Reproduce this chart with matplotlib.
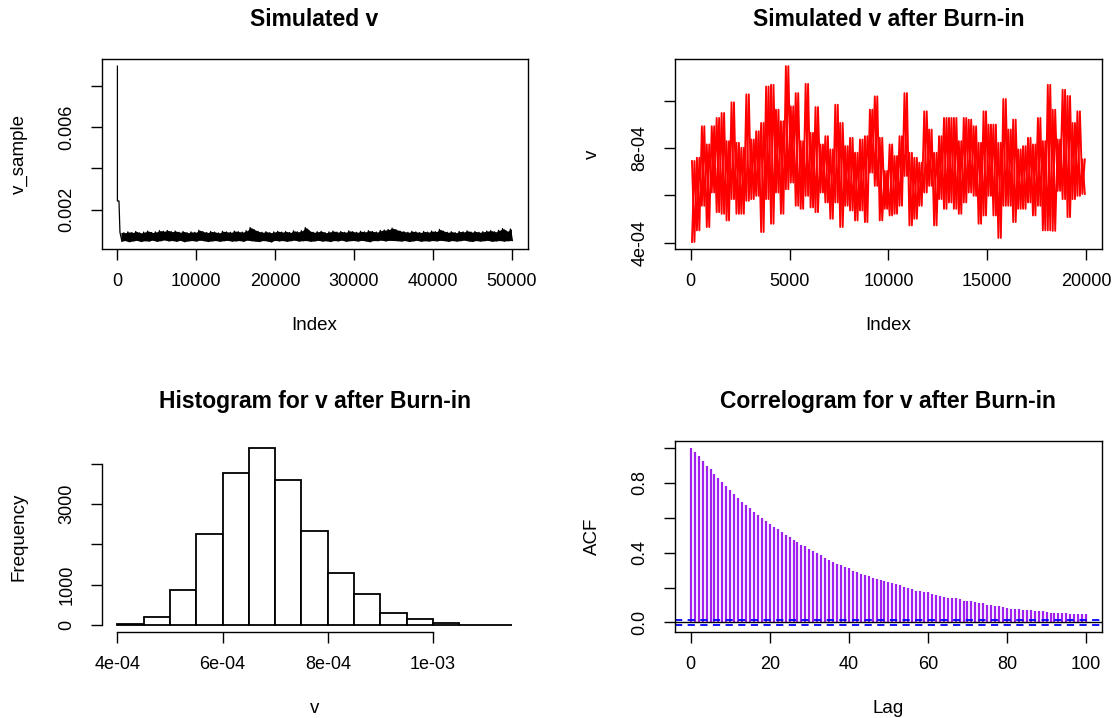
import numpy as np
import matplotlib
matplotlib.use("Agg")
import matplotlib.pyplot as plt

# ---- data ----
# full chain: start value, burn-in plateau, then per-500-draw envelope (units 1e-4)
burn_idx = [1, 2, 200]
burn_val = [89.7, 24.2, 24.2]
chain_step = 500
chain_hi = [9.0, 8.8, 9.2, 8.9, 9.4, 8.7, 9.1, 9.6, 8.9, 9.2,
            9.8, 9.5, 9.9, 9.3, 9.6, 9.0, 9.4, 8.8, 9.2, 9.0,
            10.0, 9.3, 8.9, 9.4, 9.1, 8.7, 9.5, 9.2, 9.0, 9.6,
            9.3, 9.1, 9.8, 11.3, 10.2, 9.4, 9.0, 9.3, 8.8, 9.2,
            9.5, 9.1, 9.4, 8.9, 9.7, 9.2, 9.8, 11.3, 9.6, 9.0,
            9.3, 9.5, 8.8, 9.2, 9.6, 9.1, 9.4, 9.0, 9.7, 9.3,
            9.0, 9.5, 9.2, 9.8, 9.4, 9.1, 9.9, 10.1, 10.4, 11.0,
            10.2, 9.6, 9.3, 9.0, 9.5, 9.2, 8.9, 9.4, 9.1, 9.6,
            9.3, 10.4, 9.5, 9.0, 9.3, 8.8, 9.4, 9.2, 9.7, 9.1,
            9.4, 9.0, 9.3, 9.6, 9.8, 9.2, 10.0, 10.8, 9.5, 10.6]
chain_lo = [4.6, 5.0, 4.4, 4.8, 5.1, 4.5, 4.9, 4.7, 5.2, 4.6,
            4.9, 5.3, 4.8, 5.0, 4.6, 5.1, 4.4, 4.8, 5.0, 4.7,
            5.2, 4.9, 4.5, 4.8, 5.0, 4.6, 4.9, 5.1, 4.7, 4.8,
            5.0, 4.6, 5.2, 4.9, 4.7, 4.5, 5.0, 4.8, 4.3, 5.1,
            4.8, 5.0, 4.6, 4.9, 5.2, 4.7, 4.9, 5.0, 4.6, 4.8,
            5.1, 4.7, 4.9, 4.5, 5.0, 4.8, 5.2, 4.6, 4.9, 5.0,
            4.7, 5.1, 4.8, 4.4, 5.0, 4.9, 5.2, 4.8, 5.1, 5.0,
            4.9, 4.7, 5.0, 4.5, 4.8, 5.1, 4.6, 4.9, 4.7, 5.0,
            4.8, 5.1, 4.9, 4.6, 5.0, 4.7, 4.9, 5.2, 4.8, 4.5,
            5.0, 4.7, 4.9, 5.1, 4.6, 4.8, 5.0, 4.7, 4.9, 5.0]

# after burn-in: per-250-draw envelope (units 1e-4)
post_step = 250
post_hi = [7.45, 7.59, 8.92, 8.15, 8.92, 9.27, 9.48, 8.29, 9.93, 8.22,
           8.01, 10.27, 8.36, 8.71, 9.06, 10.6, 10.67, 9.62, 9.13, 11.46,
           9.76, 10.32, 8.29, 10.71, 8.64, 9.73, 8.15, 8.50, 7.94, 9.83,
           9.06, 8.08, 8.43, 7.80, 8.36, 8.50, 9.62, 10.18, 8.43, 7.03,
           8.15, 7.66, 8.50, 10.32, 7.80, 7.59, 7.38, 9.55, 8.78, 7.80,
           8.50, 9.27, 9.27, 9.27, 8.29, 9.27, 9.20, 8.92, 8.22, 9.55,
           8.99, 8.99, 8.22, 10.07, 8.78, 9.20, 7.94, 8.08, 8.43, 8.15,
           9.27, 8.29, 10.67, 9.62, 8.36, 10.46, 10.2, 9.06, 9.55, 7.52]
post_lo = [4.03, 4.52, 5.56, 4.66, 6.12, 5.29, 5.22, 4.94, 5.84, 5.22,
           5.22, 5.77, 5.84, 5.98, 4.45, 5.84, 4.80, 6.12, 5.22, 6.26,
           6.54, 5.56, 5.43, 5.98, 5.49, 5.29, 6.12, 5.70, 5.01, 5.70,
           4.66, 5.56, 5.36, 4.94, 5.36, 4.87, 6.96, 6.40, 4.94, 5.43,
           5.15, 5.22, 5.56, 6.82, 4.73, 5.01, 5.56, 6.12, 6.40, 4.73,
           5.84, 5.43, 5.70, 5.43, 5.22, 5.70, 6.12, 5.98, 4.80, 5.15,
           5.98, 5.15, 4.20, 5.56, 5.56, 4.87, 5.43, 5.43, 5.70, 5.15,
           5.56, 4.52, 4.52, 4.50, 6.19, 5.84, 5.08, 5.84, 5.98, 6.06]

# histogram of the post burn-in draws
bin_edges = [4.0e-4, 4.5e-4, 5.0e-4, 5.5e-4, 6.0e-4, 6.5e-4, 7.0e-4, 7.5e-4,
             8.0e-4, 8.5e-4, 9.0e-4, 9.5e-4, 1.0e-3, 1.05e-3, 1.1e-3, 1.15e-3]
bin_counts = [33, 198, 876, 2264, 3777, 4397, 3595, 2331, 1298, 777,
              289, 157, 58, 3, 1]

# autocorrelation, lags 0..100
acf_vals = [1.000, 0.975, 0.952, 0.923, 0.898, 0.879, 0.854, 0.831, 0.805, 0.782,
            0.760, 0.736, 0.713, 0.692, 0.674, 0.655, 0.636, 0.617, 0.600, 0.579,
            0.564, 0.550, 0.535, 0.520, 0.502, 0.489, 0.474, 0.460, 0.447, 0.436,
            0.422, 0.409, 0.397, 0.386, 0.371, 0.359, 0.348, 0.338, 0.329, 0.317,
            0.311, 0.296, 0.288, 0.279, 0.271, 0.264, 0.256, 0.250, 0.243, 0.237,
            0.231, 0.227, 0.222, 0.214, 0.206, 0.199, 0.191, 0.183, 0.183, 0.176,
            0.172, 0.164, 0.159, 0.153, 0.147, 0.143, 0.139, 0.138, 0.132, 0.126,
            0.124, 0.122, 0.118, 0.111, 0.109, 0.101, 0.099, 0.096, 0.094, 0.088,
            0.084, 0.080, 0.078, 0.076, 0.073, 0.073, 0.071, 0.065, 0.065, 0.063,
            0.061, 0.057, 0.057, 0.055, 0.055, 0.053, 0.050, 0.050, 0.048, 0.048,
            0.048]
acf_conf = 0.0139

plt.rcParams["font.family"] = ["Liberation Sans", "DejaVu Sans"]
TICK_FS = 13
LAB_FS = 13.5
TITLE_FS = 16.5


def envelope_trace(hi, lo, step, start=0, flip=False):
    # zig-zag through the high/low envelope of each block of draws
    x, y = [], []
    for k, (h, l) in enumerate(zip(hi, lo)):
        a, b = (l, h) if flip else (h, l)
        x += [start + k * step + step * 0.25, start + k * step + step * 0.75]
        y += [a * 1e-4, b * 1e-4]
    return np.array(x), np.array(y)


def block_centres(n, step, start=0):
    return start + step * (np.arange(n) + 0.5)


def r_lim(lo, hi):
    d = (hi - lo) * 0.04
    return lo - d, hi + d


def r_axes(ax, box=True):
    for s in ax.spines.values():
        s.set_linewidth(1.0)
        s.set_visible(box)
    ax.tick_params(length=8, width=1.0, labelsize=TICK_FS, pad=9)
    ax.tick_params(axis="y", labelrotation=90, pad=11)
    for t in ax.get_yticklabels():
        t.set_va("center")


fig = plt.figure(figsize=(11.18, 7.18), dpi=100)
ax1 = fig.add_axes([0.0909, 0.6532, 0.3810, 0.2645])
ax2 = fig.add_axes([0.6037, 0.6532, 0.3819, 0.2645])
ax3 = fig.add_axes([0.0909, 0.1198, 0.3810, 0.2660])
ax4 = fig.add_axes([0.6037, 0.1198, 0.3819, 0.2660])

# --- Simulated v (full chain) ---
cx, cy = envelope_trace(chain_hi, chain_lo, chain_step, start=burn_idx[-1])
bx = block_centres(len(chain_hi), chain_step, start=burn_idx[-1])
ax1.fill_between(bx, np.array(chain_lo) * 1e-4, np.array(chain_hi) * 1e-4,
                 color="black", lw=0)
x1 = np.concatenate([burn_idx, cx])
y1 = np.concatenate([np.array(burn_val) * 1e-4, cy])
ax1.plot(x1, y1, color="black", lw=0.9)
ax1.set_xlim(*r_lim(1, 50000))
ax1.set_ylim(*r_lim(y1.min(), y1.max()))
ax1.set_xticks([0, 10000, 20000, 30000, 40000, 50000])
ax1.set_yticks([0.002, 0.004, 0.006, 0.008])
ax1.set_yticklabels(["0.002", "", "0.006", ""])
ax1.set_title("Simulated v", fontsize=TITLE_FS, fontweight="bold", pad=24)
ax1.set_xlabel("Index", fontsize=LAB_FS, labelpad=20)
ax1.set_ylabel("v_sample", fontsize=LAB_FS, labelpad=22)
r_axes(ax1)

# --- Simulated v after burn-in ---
# each block's high and low drawn in both orders, so the dense band fills in
px, py = envelope_trace(post_hi, post_lo, post_step)
qx, qy = envelope_trace(post_hi, post_lo, post_step, flip=True)
ax2.plot(px, py, color="red", lw=1.35)
ax2.plot(qx, qy, color="red", lw=1.35)
ax2.set_xlim(*r_lim(1, 20000))
ax2.set_ylim(*r_lim(py.min(), py.max()))
ax2.set_xticks([0, 5000, 10000, 15000, 20000])
ax2.set_yticks([4e-4, 6e-4, 8e-4, 1e-3])
ax2.set_yticklabels(["4e-04", "", "8e-04", ""])
ax2.set_title("Simulated v after Burn-in", fontsize=TITLE_FS, fontweight="bold", pad=24)
ax2.set_xlabel("Index", fontsize=LAB_FS, labelpad=20)
ax2.set_ylabel("v", fontsize=LAB_FS, labelpad=22)
r_axes(ax2)

# --- Histogram ---
edges = np.array(bin_edges)
ax3.bar(edges[:-1], bin_counts, width=np.diff(edges), align="edge",
        color="white", edgecolor="black", linewidth=1.3)
ax3.set_xlim(*r_lim(edges[0], edges[-1]))
ax3.set_ylim(*r_lim(0, max(bin_counts)))
ax3.set_xticks([4e-4, 6e-4, 8e-4, 1e-3])
ax3.set_xticklabels(["4e-04", "6e-04", "8e-04", "1e-03"])
ax3.set_yticks([0, 1000, 2000, 3000, 4000])
ax3.set_yticklabels(["0", "1000", "", "3000", ""])
ax3.spines["left"].set_bounds(0, 4000)
ax3.spines["bottom"].set_bounds(4e-4, 1e-3)
ax3.set_title("Histogram for v after Burn-in", fontsize=TITLE_FS, fontweight="bold", pad=24)
ax3.set_xlabel("v", fontsize=LAB_FS, labelpad=20)
ax3.set_ylabel("Frequency", fontsize=LAB_FS, labelpad=22)
r_axes(ax3, box=False)
ax3.spines["left"].set_visible(True)
ax3.spines["bottom"].set_visible(True)

# --- Correlogram ---
lags = np.arange(len(acf_vals))
ax4.vlines(lags, 0, acf_vals, color="#A020F0", lw=1.6)
ax4.axhline(0, color="black", lw=1.0)
ax4.axhline(acf_conf, color="blue", lw=1.3, ls=(0, (4, 3)))
ax4.axhline(-acf_conf, color="blue", lw=1.3, ls=(0, (4, 3)))
ax4.set_xlim(*r_lim(0, 100))
ax4.set_ylim(*r_lim(-acf_conf, 1.0))
ax4.set_xticks([0, 20, 40, 60, 80, 100])
ax4.set_yticks([0.0, 0.2, 0.4, 0.6, 0.8, 1.0])
ax4.set_yticklabels(["0.0", "", "0.4", "", "0.8", ""])
ax4.set_title("Correlogram for v after Burn-in", fontsize=TITLE_FS, fontweight="bold", pad=24)
ax4.set_xlabel("Lag", fontsize=LAB_FS, labelpad=20)
ax4.set_ylabel("ACF", fontsize=LAB_FS, labelpad=22)
r_axes(ax4)

fig.savefig("out.png", dpi=100)
